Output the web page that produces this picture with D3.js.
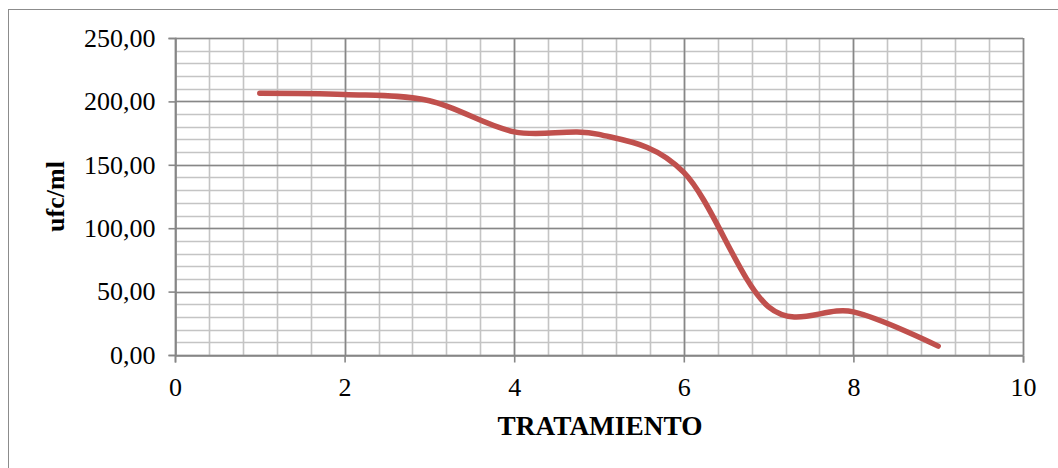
<!DOCTYPE html>
<html>
<head>
<meta charset="utf-8">
<script src="https://cdn.jsdelivr.net/npm/d3@7"></script>
<style>
  html, body { margin: 0; padding: 0; background: #fff; }
  svg { display: block; }
</style>
</head>
<body>
<svg id="chart" width="1058" height="468"></svg>
<script>
// Series: colony count per treatment
const tratamiento = [1, 2, 3, 4, 5, 6, 7, 8, 9];
const ufcMl = [206.5, 205.5, 200.5, 176, 174, 144, 38, 34, 7];

// Axis ticks
const xTicks = [0, 2, 4, 6, 8, 10];
const yTicks = [0, 50, 100, 150, 200, 250];

const svg = d3.select("#chart");
const W = 1058, H = 468;
const plot = { left: 175, right: 1023, top: 38, bottom: 355 };

const x = d3.scaleLinear().domain([0, 10]).range([plot.left, plot.right]);
const y = d3.scaleLinear().domain([0, 250]).range([plot.bottom, plot.top]);

const fmt = v => d3.format(".2f")(v).replace(".", ",");

// Chart frame
svg.append("rect")
  .attr("x", 8.5).attr("y", 9.5)
  .attr("width", W + 20).attr("height", H + 20)
  .attr("fill", "#fff")
  .attr("stroke", "#8c8c8c").attr("stroke-width", 1);

const g = svg.append("g");

// Minor grid
const xMinor = d3.range(0, 10.0001, 0.4).map(v => +v.toFixed(2));
const yMinor = d3.range(0, 250.0001, 10);

g.append("g").selectAll("line").data(xMinor).join("line")
  .attr("x1", d => Math.round(x(d)) + 0.5).attr("x2", d => Math.round(x(d)) + 0.5)
  .attr("y1", plot.top).attr("y2", plot.bottom)
  .attr("stroke", "#c4c4c4").attr("stroke-width", 1.6);

g.append("g").selectAll("line").data(yMinor).join("line")
  .attr("y1", d => Math.round(y(d)) + 0.5).attr("y2", d => Math.round(y(d)) + 0.5)
  .attr("x1", plot.left).attr("x2", plot.right)
  .attr("stroke", "#c4c4c4").attr("stroke-width", 1.6);

// Major grid
g.append("g").selectAll("line").data(xTicks).join("line")
  .attr("x1", d => Math.round(x(d)) + 0.5).attr("x2", d => Math.round(x(d)) + 0.5)
  .attr("y1", plot.top).attr("y2", plot.bottom)
  .attr("stroke", "#878787").attr("stroke-width", 1.6);

g.append("g").selectAll("line").data(yTicks).join("line")
  .attr("y1", d => Math.round(y(d)) + 0.5).attr("y2", d => Math.round(y(d)) + 0.5)
  .attr("x1", plot.left).attr("x2", plot.right)
  .attr("stroke", "#878787").attr("stroke-width", 1.6);

// Axes
const font = "'Liberation Serif', 'Times New Roman', serif";

const yAxis = g.append("g")
  .attr("transform", `translate(${plot.left + 0.5},0)`)
  .call(d3.axisLeft(y).tickValues(yTicks).tickFormat(fmt).tickSize(7).tickPadding(13));
const xAxis = g.append("g")
  .attr("transform", `translate(0,${plot.bottom + 0.5})`)
  .call(d3.axisBottom(x).tickValues(xTicks).tickFormat(d3.format("d")).tickSize(7).tickPadding(15));

[yAxis, xAxis].forEach(ax => {
  ax.select(".domain").attr("stroke", "#878787").attr("stroke-width", 1.6);
  ax.selectAll(".tick line").attr("stroke", "#878787").attr("stroke-width", 1.6);
  ax.selectAll(".tick text")
    .attr("fill", "#000")
    .style("font-family", font)
    .style("font-size", "26px");
});

// Series line (smoothed)
const line = d3.line()
  .x((d, i) => x(tratamiento[i]))
  .y(d => y(d))
  .curve(d3.curveCardinal.tension(0));

g.append("path")
  .datum(ufcMl)
  .attr("d", line)
  .attr("fill", "none")
  .attr("stroke", "#c0504d")
  .attr("stroke-width", 5.5)
  .attr("stroke-linecap", "round")
  .attr("stroke-linejoin", "round");

// Axis titles
svg.append("text")
  .attr("x", 600)
  .attr("y", 435)
  .attr("text-anchor", "middle")
  .style("font-family", font)
  .style("font-weight", "bold")
  .style("font-size", "27.3px")
  .text("TRATAMIENTO");

svg.append("text")
  .attr("transform", `translate(64,${(plot.top + plot.bottom) / 2}) rotate(-90)`)
  .attr("text-anchor", "middle")
  .style("font-family", font)
  .style("font-weight", "bold")
  .style("font-size", "26px")
  .text("ufc/ml");
</script>
</body>
</html>
